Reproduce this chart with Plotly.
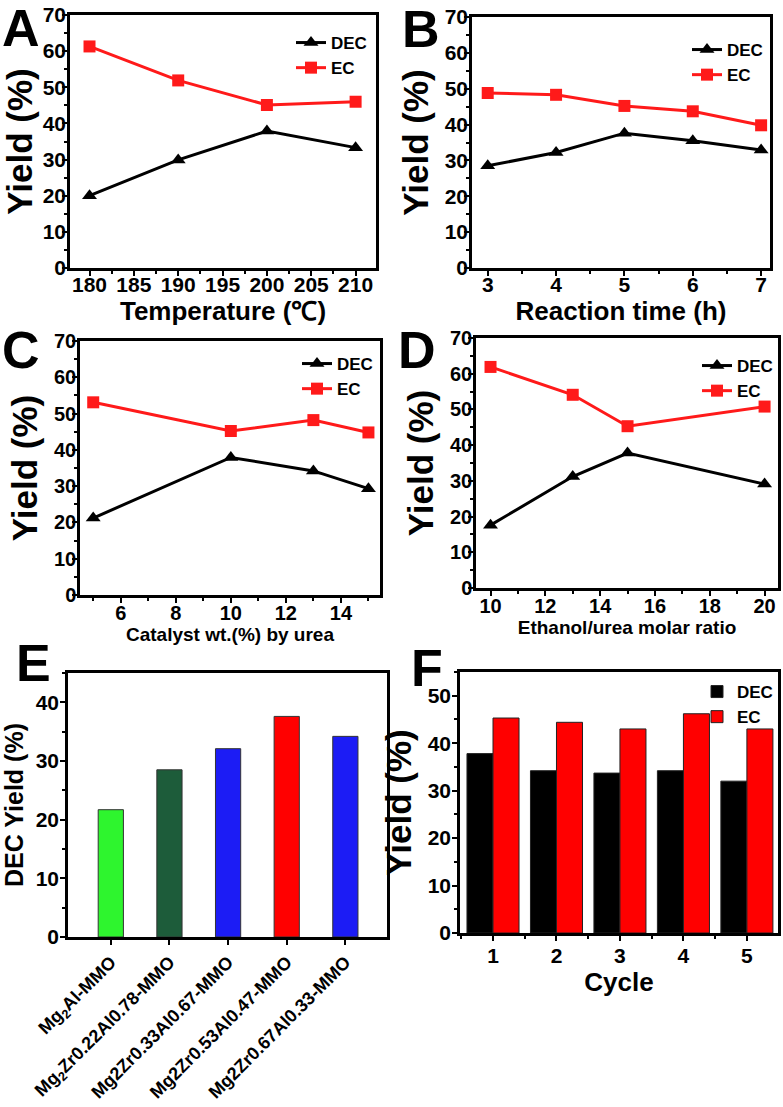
import plotly.graph_objects as go

W, H = 783, 1107

# ---------- data ----------
temp_x = [180, 190, 200, 210]
temp_dec = [20.0, 29.9, 37.9, 33.3]
temp_ec = [61.3, 51.9, 45.1, 46.0]

time_x = [3, 4, 5, 6, 7]
time_dec = [28.5, 32.2, 37.6, 35.5, 32.9]
time_ec = [48.8, 48.3, 45.2, 43.7, 39.8]

cat_x = [5, 10, 13, 15]
cat_dec = [21.2, 37.9, 34.2, 29.3]
cat_ec = [53.1, 45.2, 48.2, 44.8]

ratio_x = [10, 13, 15, 20]
ratio_dec = [17.6, 31.2, 37.8, 29.1]
ratio_ec = [61.9, 54.1, 45.3, 50.8]

catalysts = ["Mg<sub>2</sub>Al-MMO",
             "Mg<sub>2</sub>Zr0.22Al0.78-MMO",
             "Mg2Zr0.33Al0.67-MMO",
             "Mg2Zr0.53Al0.47-MMO",
             "Mg2Zr0.67Al0.33-MMO"]
catalyst_dec = [21.7, 28.5, 32.1, 37.6, 34.2]
catalyst_colors = ["#2ef52e", "#1d5c3a", "#1c1cf5", "#ff0000", "#1c1cf5"]

cycles = [1, 2, 3, 4, 5]
cycle_dec = [37.8, 34.2, 33.7, 34.2, 32.0]
cycle_ec = [45.3, 44.4, 43.0, 46.2, 43.0]

FONT = "Liberation Sans"
RED = "#ff1a1a"

def px_dom_x(a, b):
    return [a / W, b / W]

def px_dom_y(top, bottom):
    return [1 - bottom / H, 1 - top / H]

fig = go.Figure()

def line_pair(x, dec, ec, xa, ya, leg):
    fig.add_trace(go.Scatter(x=x, y=dec, mode="lines+markers", name="DEC",
                             line=dict(color="black", width=3),
                             marker=dict(symbol="triangle-up", size=13, color="black"),
                             xaxis=xa, yaxis=ya, legend=leg))
    fig.add_trace(go.Scatter(x=x, y=ec, mode="lines+markers", name="EC",
                             line=dict(color=RED, width=3),
                             marker=dict(symbol="square", size=12, color=RED),
                             xaxis=xa, yaxis=ya, legend=leg))

line_pair(temp_x, temp_dec, temp_ec, "x", "y", "legend")
line_pair(time_x, time_dec, time_ec, "x2", "y2", "legend2")
line_pair(cat_x, cat_dec, cat_ec, "x3", "y3", "legend3")
line_pair(ratio_x, ratio_dec, ratio_ec, "x4", "y4", "legend4")

fig.add_trace(go.Bar(x=list(range(len(catalysts))), y=catalyst_dec, width=0.43,
                     marker=dict(color=catalyst_colors, line=dict(color="#333333", width=1)),
                     showlegend=False, xaxis="x5", yaxis="y5"))

fig.add_trace(go.Bar(x=cycles, y=cycle_dec, width=0.41, offset=-0.41, name="DEC",
                     marker=dict(color="black", line=dict(color="#222222", width=1)),
                     xaxis="x6", yaxis="y6", legend="legend5"))
fig.add_trace(go.Bar(x=cycles, y=cycle_ec, width=0.41, offset=0, name="EC",
                     marker=dict(color="#ff0000", line=dict(color="#222222", width=1)),
                     xaxis="x6", yaxis="y6", legend="legend5"))

def axis(dom, rng, title, tsize, ticksize, dtick=None, tickvals=None, ticktext=None,
         minor_dtick=None, anchor=None, standoff=6, tickangle=None, lblstand=0):
    d = dict(domain=dom, range=rng, showline=True, linecolor="black", linewidth=2.5,
             mirror=True, ticks="outside", ticklen=5, tickwidth=2, tickcolor="black",
             showgrid=False, zeroline=False, anchor=anchor, automargin=False,
             ticklabelstandoff=lblstand,
             tickfont=dict(family=FONT, size=ticksize, color="black", weight="bold"),
             title=dict(text=title, standoff=standoff,
                        font=dict(family=FONT, size=tsize, color="black", weight="bold")))
    if dtick is not None:
        d["dtick"] = dtick
        d["tick0"] = 0
    if tickvals is not None:
        d["tickmode"] = "array"
        d["tickvals"] = tickvals
        d["ticktext"] = ticktext
    if minor_dtick is not None:
        d["minor"] = dict(ticks="outside", ticklen=3, tickwidth=2, tickcolor="black",
                          dtick=minor_dtick, showgrid=False)
    if tickangle is not None:
        d["tickangle"] = tickangle
    return d

layout = dict(width=W, height=H, margin=dict(l=0, r=0, t=0, b=0, autoexpand=False),
              plot_bgcolor="white", paper_bgcolor="white", showlegend=True,
              barmode="overlay")

YT = 35
# A
layout["xaxis"] = axis(px_dom_x(70, 376), [177.8, 212.3], "Temperature (℃)", 26, 21,
                       dtick=5, minor_dtick=2.5, anchor="y", standoff=4, lblstand=-9)
layout["yaxis"] = axis(px_dom_y(15, 268), [0, 70], "Yield (%)", YT, 21,
                       dtick=10, minor_dtick=5, anchor="x", standoff=6, lblstand=-8)
# B
layout["xaxis2"] = axis(px_dom_x(472, 770), [2.77, 7.13], "Reaction time (h)", 26, 21,
                        dtick=1, minor_dtick=0.5, anchor="y2", standoff=4, lblstand=-9)
layout["yaxis2"] = axis(px_dom_y(17, 268), [0, 70], "Yield (%)", YT, 21,
                        dtick=10, minor_dtick=5, anchor="x2", standoff=6, lblstand=-8)
# C
layout["xaxis3"] = axis(px_dom_x(80, 380), [4.52, 15.42], "Catalyst wt.(%) by urea", 19, 20,
                        dtick=2, minor_dtick=1, anchor="y3", standoff=4, lblstand=-7)
layout["yaxis3"] = axis(px_dom_y(341, 595), [0, 70], "Yield (%)", YT, 20,
                        dtick=10, minor_dtick=5, anchor="x3", standoff=6, lblstand=-8)
# D
layout["xaxis4"] = axis(px_dom_x(476, 778), [9.47, 20.49], "Ethanol/urea molar ratio", 19, 20,
                        dtick=2, minor_dtick=1, anchor="y4", standoff=4, lblstand=-7)
layout["yaxis4"] = axis(px_dom_y(338, 588), [0, 70], "Yield (%)", YT, 20,
                        dtick=10, minor_dtick=5, anchor="x4", standoff=6, lblstand=-8)
# E
layout["xaxis5"] = axis(px_dom_x(68, 387), [-0.73, 4.71], "", 17, 18,
                        tickvals=list(range(len(catalysts))), ticktext=catalysts,
                        anchor="y5", tickangle=-45)
layout["yaxis5"] = axis(px_dom_y(673, 937), [0, 45], "DEC Yield (%)", 25, 21,
                        dtick=10, minor_dtick=5, anchor="x5", standoff=8, lblstand=-3)
# F
layout["xaxis6"] = axis(px_dom_x(460, 778), [0.48, 5.49], "Cycle", 26, 21,
                        dtick=1, minor_dtick=0.5, anchor="y6", standoff=4, lblstand=-3)
layout["yaxis6"] = axis(px_dom_y(672, 933), [0, 55], "Yield (%)", YT, 21,
                        dtick=10, minor_dtick=5, anchor="x6", standoff=6, lblstand=-3)

leg_font = dict(family=FONT, size=17, color="black", weight="bold")

def legend(x_right, y_top):
    return dict(x=x_right / W, y=1 - y_top / H, xanchor="right", yanchor="top",
                bgcolor="rgba(0,0,0,0)", font=leg_font, itemwidth=30,
                tracegroupgap=0, traceorder="normal")

layout["legend"] = legend(372, 25)
layout["legend2"] = legend(768, 32)
layout["legend3"] = legend(378, 346)
layout["legend4"] = legend(778, 348)
layout["legend5"] = legend(778, 674)

letters = [("A", 0, 28), ("B", 400, 29), ("C", 0, 350), ("D", 396, 350),
           ("E", 14, 663), ("F", 409, 668)]
layout["annotations"] = [dict(text=t, x=x / W, y=1 - y / H, xref="paper", yref="paper",
                              xanchor="left", yanchor="middle", showarrow=False,
                              font=dict(family=FONT, size=52, color="black", weight="bold"))
                         for t, x, y in letters]

fig.update_layout(**layout)
fig.write_html("out.html", config={"displayModeBar": False},
               post_script="document.body.style.margin='0';document.body.style.overflow='hidden';")
